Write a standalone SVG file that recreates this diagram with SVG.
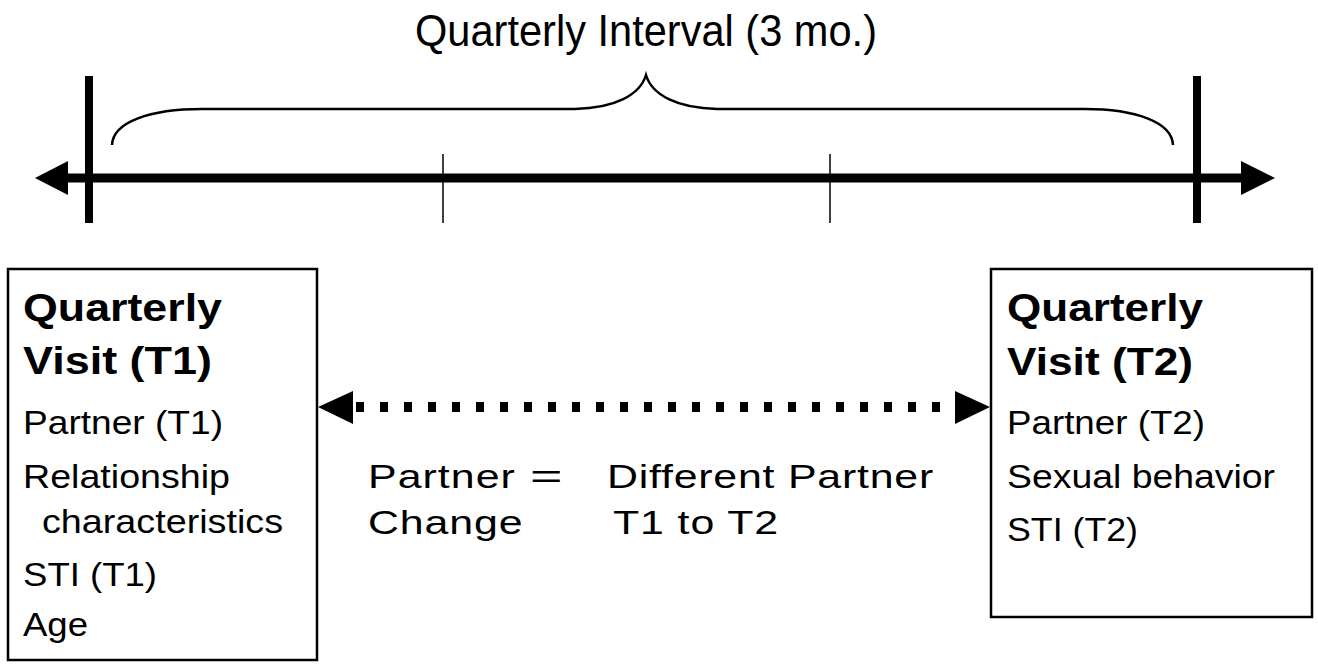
<svg xmlns="http://www.w3.org/2000/svg" width="1318" height="664" viewBox="0 0 1318 664">
<style>
text{font-family:"Liberation Sans",Arial,sans-serif;fill:#000}
.t{font-size:44px}
.h{font-size:39px;font-weight:bold}
.b{font-size:33px}
.box{fill:#fff;stroke:#000;stroke-width:2.5}
</style>
<rect width="1318" height="664" fill="#fff"/>
<g id="timeline">
  <line x1="66" y1="178" x2="1243" y2="178" stroke="#000" stroke-width="9"/>
  <polygon points="35,178 68,161 68,195" fill="#000"/>
  <polygon points="1275,178 1241,161 1241,195" fill="#000"/>
  <line x1="89" y1="76" x2="89" y2="223" stroke="#000" stroke-width="8"/>
  <line x1="1197" y1="76" x2="1197" y2="223" stroke="#000" stroke-width="8"/>
  <line x1="443" y1="154" x2="443" y2="223" stroke="#000" stroke-width="1.5"/>
  <line x1="830" y1="154" x2="830" y2="223" stroke="#000" stroke-width="1.5"/>
</g>
<g id="interval">
  <path d="M112,145 C113,122 150,109 202,109 L575,109 C615,108 640,95 646,75 C652,95 677,108 717,109 L1085,109 C1135,109 1172,122 1173,145" fill="none" stroke="#000" stroke-width="2.5"/>
  <text class="t" x="415" y="46" textLength="462" lengthAdjust="spacingAndGlyphs">Quarterly Interval (3 mo.)</text>
</g>
<g id="visit-t1">
  <rect class="box" x="8" y="269" width="309" height="391"/>
  <text class="h" x="23" y="321" textLength="199" lengthAdjust="spacingAndGlyphs">Quarterly</text>
  <text class="h" x="23" y="374" textLength="189" lengthAdjust="spacingAndGlyphs">Visit (T1)</text>
  <text class="b" x="23" y="434" textLength="200" lengthAdjust="spacingAndGlyphs">Partner (T1)</text>
  <text class="b" x="23" y="488" textLength="207" lengthAdjust="spacingAndGlyphs">Relationship</text>
  <text class="b" x="42" y="533" textLength="241" lengthAdjust="spacingAndGlyphs">characteristics</text>
  <text class="b" x="23" y="586" textLength="134" lengthAdjust="spacingAndGlyphs">STI (T1)</text>
  <text class="b" x="23" y="636" textLength="65" lengthAdjust="spacingAndGlyphs">Age</text>
</g>
<g id="visit-t2">
  <rect class="box" x="991" y="269" width="321" height="348"/>
  <text class="h" x="1007" y="321" textLength="196" lengthAdjust="spacingAndGlyphs">Quarterly</text>
  <text class="h" x="1007" y="375" textLength="186" lengthAdjust="spacingAndGlyphs">Visit (T2)</text>
  <text class="b" x="1007" y="434" textLength="198" lengthAdjust="spacingAndGlyphs">Partner (T2)</text>
  <text class="b" x="1007" y="488" textLength="268" lengthAdjust="spacingAndGlyphs">Sexual behavior</text>
  <text class="b" x="1007" y="541" textLength="131" lengthAdjust="spacingAndGlyphs">STI (T2)</text>
</g>
<g id="connectors">
  <line x1="356" y1="407" x2="953" y2="407" stroke="#000" stroke-width="10" stroke-dasharray="8 16"/>
  <polygon points="318,407 353,391 353,424" fill="#000"/>
  <polygon points="990,407 955,391 955,424" fill="#000"/>
</g>
<g id="partner-change">
  <text class="b" transform="translate(368,488) scale(1.3,1)" textLength="113" lengthAdjust="spacing">Partner</text>
  <text class="b" transform="translate(530,488) scale(1.3,1)" textLength="25" lengthAdjust="spacingAndGlyphs">=</text>
  <text class="b" transform="translate(607,488) scale(1.3,1)" textLength="251" lengthAdjust="spacing">Different Partner</text>
  <text class="b" transform="translate(368,534) scale(1.3,1)" textLength="119" lengthAdjust="spacing">Change</text>
  <text class="b" transform="translate(613,534) scale(1.3,1)" textLength="127" lengthAdjust="spacing">T1 to T2</text>
</g>
</svg>
